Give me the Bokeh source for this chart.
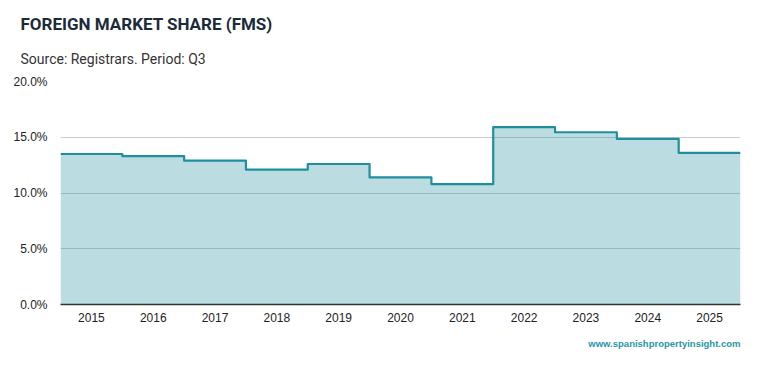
from bokeh.plotting import figure
from bokeh.models import Title, FixedTicker, PrintfTickFormatter, Range1d
from bokeh.embed import file_html
from bokeh.resources import INLINE

years = [2015, 2016, 2017, 2018, 2019, 2020, 2021, 2022, 2023, 2024, 2025]
fms = [13.5, 13.3, 12.9, 12.1, 12.6, 11.4, 10.8, 15.9, 15.45, 14.85, 13.6]
y_ticks = [0, 5, 10, 15, 20]

title_text = "FOREIGN MARKET SHARE (FMS)"
subtitle_text = "Source: Registrars. Period: Q3"
credit_text = "www.spanishpropertyinsight.com"

LINE = "#1f8f9f"
FONT = "Roboto"
TICK_FONT = "Liberation Sans"

# step edges built from the yearly categories
xs, ys = [], []
for yr, v in zip(years, fms):
    xs += [yr - 0.5, yr + 0.5]
    ys += [v, v]

p = figure(width=750, height=362, output_backend="svg", toolbar_location=None,
           title=None, x_range=Range1d(years[0] - 0.5, years[-1] + 0.5),
           y_range=Range1d(0, 20), min_border_left=60, min_border_right=10,
           min_border_top=0, min_border_bottom=58)
p.outline_line_color = None
p.background_fill_color = "white"
p.border_fill_color = "white"

p.varea(x=xs, y1=[0] * len(xs), y2=ys, fill_color=LINE, fill_alpha=0.3)
p.line(x=xs, y=ys, line_color=LINE, line_width=2.2, line_join="round")

p.add_layout(Title(text=subtitle_text, text_font=FONT, text_font_size="14px",
                   text_font_style="normal", text_color="#333333", offset=-40,
                   standoff=30), "above")
p.add_layout(Title(text=title_text, text_font=FONT, text_font_size="17px",
                   text_font_style="bold", text_color="#1c2b39", offset=-40,
                   standoff=0), "above")
# top spacer
p.add_layout(Title(text=" ", text_font=FONT, text_font_size="8px",
                   standoff=0), "above")

p.xaxis.ticker = FixedTicker(ticks=years)
p.xaxis.major_tick_line_color = None
p.xaxis.minor_tick_line_color = None
p.xaxis.axis_line_color = "#333333"
p.xaxis.axis_line_width = 1.5
p.xaxis.major_label_text_font = TICK_FONT
p.xaxis.major_label_text_font_size = "12px"
p.xaxis.major_label_text_color = "#222222"
p.xaxis.major_label_standoff = 2

p.yaxis.ticker = FixedTicker(ticks=y_ticks)
p.yaxis.formatter = PrintfTickFormatter(format="%.1f%%")
p.yaxis.major_tick_line_color = None
p.yaxis.minor_tick_line_color = None
p.yaxis.axis_line_color = None
p.yaxis.major_label_text_font = TICK_FONT
p.yaxis.major_label_text_font_size = "12px"
p.yaxis.major_label_text_color = "#222222"
p.yaxis.major_label_standoff = 7

p.xgrid.grid_line_color = None
p.ygrid.grid_line_color = "#cccccc"
p.ygrid.grid_line_width = 1

p.add_layout(Title(text=credit_text, align="right", text_font=TICK_FONT,
                   text_font_size="9.5px", text_font_style="bold",
                   text_color="#2a95a5", standoff=23), "below")

open("out.html", "w").write(file_html(p, INLINE))
